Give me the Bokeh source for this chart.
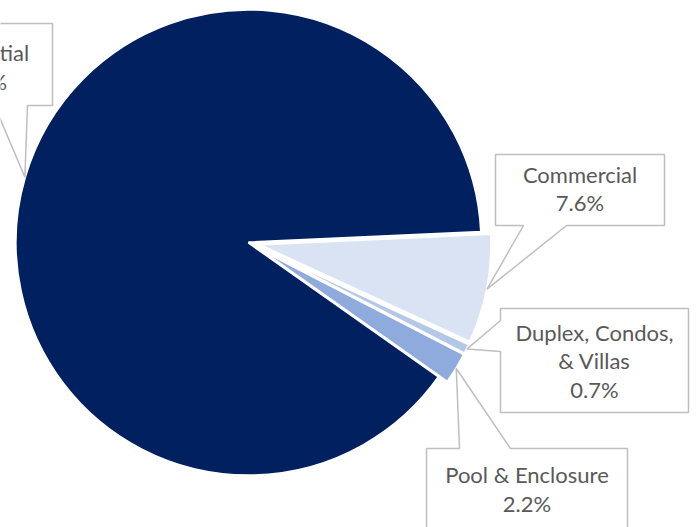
import math
from bokeh.plotting import figure
from bokeh.models import Range1d
from bokeh.core.properties import value
from bokeh.embed import file_html
from bokeh.resources import INLINE

# ---- data ----
categories = ["Residential", "Commercial", "Duplex, Condos, & Villas", "Pool & Enclosure"]
shares = [89.5, 7.6, 0.7, 2.2]
name_lines = [["Residential"], ["Commercial"], ["Duplex, Condos,", "& Villas"], ["Pool & Enclosure"]]

# ---- styles / layout ----
colors = ["#002060", "#DAE3F3", "#B4C7E7", "#8FAADC"]
explode = [0, 10, 10, 10]
W, H = 696, 527
CX, CY, R = 248, 242, 233          # pie centre / radius (screen px)
FIRST_ANGLE = -35.2                # math degrees, slices run clockwise
TEXT_COLOR = "#595959"
BOX_COLOR = "#BFBFBF"
FONT = "Lato"
FONT_SIZE = "22px"
LINE_H = 28.5

# callout boxes (screen px): left, top, right, bottom, pointer side, base a, base b, text dy
boxes = [
    (-100, 23, 52, 105, "bottom", 27, -6, 2.5),
    (495, 154, 664, 225, "bottom", 566, 523, -1.5),
    (500, 308, 688, 412, "left", 351, 320, 0.0),
    (426, 448, 627, 532, "top", 459, 510, -1.5),
]

def sy(y):
    return H - y

p = figure(width=W, height=H, x_range=Range1d(0, W), y_range=Range1d(0, H),
           output_backend="svg", toolbar_location=None, min_border=0)
p.axis.visible = False
p.grid.visible = False
p.outline_line_color = None
p.background_fill_color = "white"

total = sum(shares)
ang = FIRST_ANGLE
tips = []
for i, s in enumerate(shares):
    span = 360.0 * s / total
    start_cw = ang
    end_cw = ang - span
    mid = math.radians((start_cw + end_cw) / 2)
    cx = CX + explode[i] * math.cos(mid)
    cy = sy(CY) + explode[i] * math.sin(mid)
    p.wedge(x=[cx], y=[cy], radius=R, start_angle=math.radians(end_cw),
            end_angle=math.radians(start_cw), direction="anticlock",
            fill_color=colors[i], line_color="white", line_width=2.5)
    tips.append((cx + R * math.cos(mid), cy + R * math.sin(mid)))
    ang = end_cw

for i, (l, t, r, b, side, a1, a2, dy) in enumerate(boxes):
    tx, ty = tips[i]
    if side == "bottom":
        pts = [(l, t), (r, t), (r, b), (a1, b), None, (a2, b), (l, b)]
    elif side == "top":
        pts = [(l, t), (a1, t), None, (a2, t), (r, t), (r, b), (l, b)]
    else:
        pts = [(l, t), (r, t), (r, b), (l, b), (l, a1), None, (l, a2)]
    xs, ys = [], []
    for pt in pts:
        if pt is None:
            xs.append(tx); ys.append(ty)
        else:
            xs.append(pt[0]); ys.append(sy(pt[1]))
    p.patch(xs, ys, fill_color="white", line_color=BOX_COLOR, line_width=1.5)
    lines = name_lines[i] + [f"{shares[i]:.1f}%"]
    ccx = (l + r) / 2
    ccy = (t + b) / 2 + dy
    n = len(lines)
    for k, txt in enumerate(lines):
        yy = ccy + (k - (n - 1) / 2) * LINE_H
        p.text(x=[ccx], y=[sy(yy)], text=[txt], text_align="center",
               text_baseline="middle", text_color=TEXT_COLOR,
               text_font=value(FONT), text_font_size=FONT_SIZE)

open("out.html", "w").write(file_html(p, INLINE))
